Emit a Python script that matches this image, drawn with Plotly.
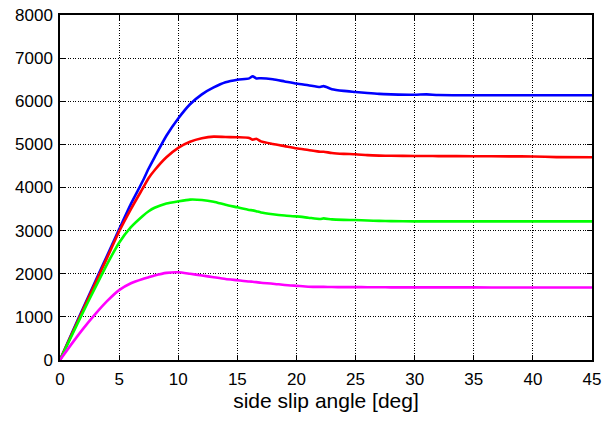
import plotly.graph_objects as go

slip_deg = [0, 1, 2, 3, 4, 5, 6, 7, 7.5, 8, 9, 10, 11, 12, 13, 14, 15, 16, 16.3, 16.6, 17, 18, 19, 20, 21, 22, 22.3, 23, 24, 25, 26, 27, 28, 30, 31, 32, 35, 38, 40, 42, 45]

force_blue = [0, 620, 1230, 1830, 2430, 3030, 3620, 4150, 4440, 4700, 5200, 5600, 5930, 6160, 6320, 6440, 6500, 6530, 6580, 6530, 6535, 6510, 6460, 6410, 6370, 6330, 6350, 6280, 6240, 6215, 6190, 6170, 6160, 6150, 6160, 6145, 6140, 6140, 6140, 6140, 6140]

force_red = [0, 600, 1200, 1790, 2380, 2980, 3500, 3980, 4220, 4400, 4700, 4920, 5060, 5140, 5180, 5170, 5165, 5150, 5110, 5130, 5070, 5010, 4960, 4910, 4870, 4830, 4830, 4800, 4780, 4770, 4750, 4740, 4735, 4730, 4730, 4728, 4725, 4722, 4720, 4705, 4700]

force_green = [0, 570, 1140, 1690, 2230, 2720, 3080, 3340, 3450, 3530, 3630, 3680, 3720, 3710, 3670, 3600, 3540, 3480, 3470, 3450, 3420, 3380, 3350, 3330, 3300, 3270, 3285, 3260, 3250, 3245, 3235, 3225, 3220, 3215, 3215, 3215, 3215, 3215, 3215, 3215, 3215]

force_magenta = [0, 380, 740, 1070, 1370, 1620, 1780, 1880, 1920, 1960, 2020, 2035, 2000, 1960, 1920, 1880, 1850, 1820, 1815, 1805, 1790, 1770, 1740, 1720, 1700, 1695, 1695, 1692, 1690, 1690, 1688, 1686, 1685, 1685, 1685, 1684, 1683, 1682, 1682, 1681, 1680]

series = [
    (force_blue, "#0000FF"),
    (force_red, "#FF0000"),
    (force_green, "#00FF00"),
    (force_magenta, "#FF00FF"),
]

x_ticks = [0, 5, 10, 15, 20, 25, 30, 35, 40, 45]
y_ticks = [0, 1000, 2000, 3000, 4000, 5000, 6000, 7000, 8000]

FONT = "Liberation Sans, Arial, sans-serif"

fig = go.Figure()
for vals, col in series:
    fig.add_trace(go.Scatter(x=slip_deg, y=vals, mode="lines",
                             line=dict(color=col, width=2.6, shape="spline", smoothing=0.6),
                             showlegend=False))

axis_common = dict(
    showline=True, linecolor="black", linewidth=1.5, mirror="ticks",
    ticks="inside", ticklen=5, tickwidth=1, tickcolor="black",
    showgrid=True, gridcolor="black", gridwidth=1, griddash="1px,1.5px",
    zeroline=False, automargin=False,
)
TICKFONT = dict(family=FONT, size=17, color="black")

fig.update_xaxes(range=[0, 45], tickvals=x_ticks, ticktext=[str(v) for v in x_ticks],
                 ticklabelstandoff=3, tickfont=TICKFONT,
                 title=dict(text="side slip angle [deg]",
                            font=dict(family=FONT, size=21, color="black"),
                            standoff=3),
                 **axis_common)
fig.update_yaxes(range=[0, 8000], tickvals=y_ticks, ticktext=[str(v) for v in y_ticks],
                 ticklabelstandoff=2, tickfont=TICKFONT,
                 **axis_common)

fig.update_layout(
    width=612, height=423,
    margin=dict(l=60, r=20, t=15, b=63),
    paper_bgcolor="white", plot_bgcolor="white",
)

fig.write_html("out.html")
